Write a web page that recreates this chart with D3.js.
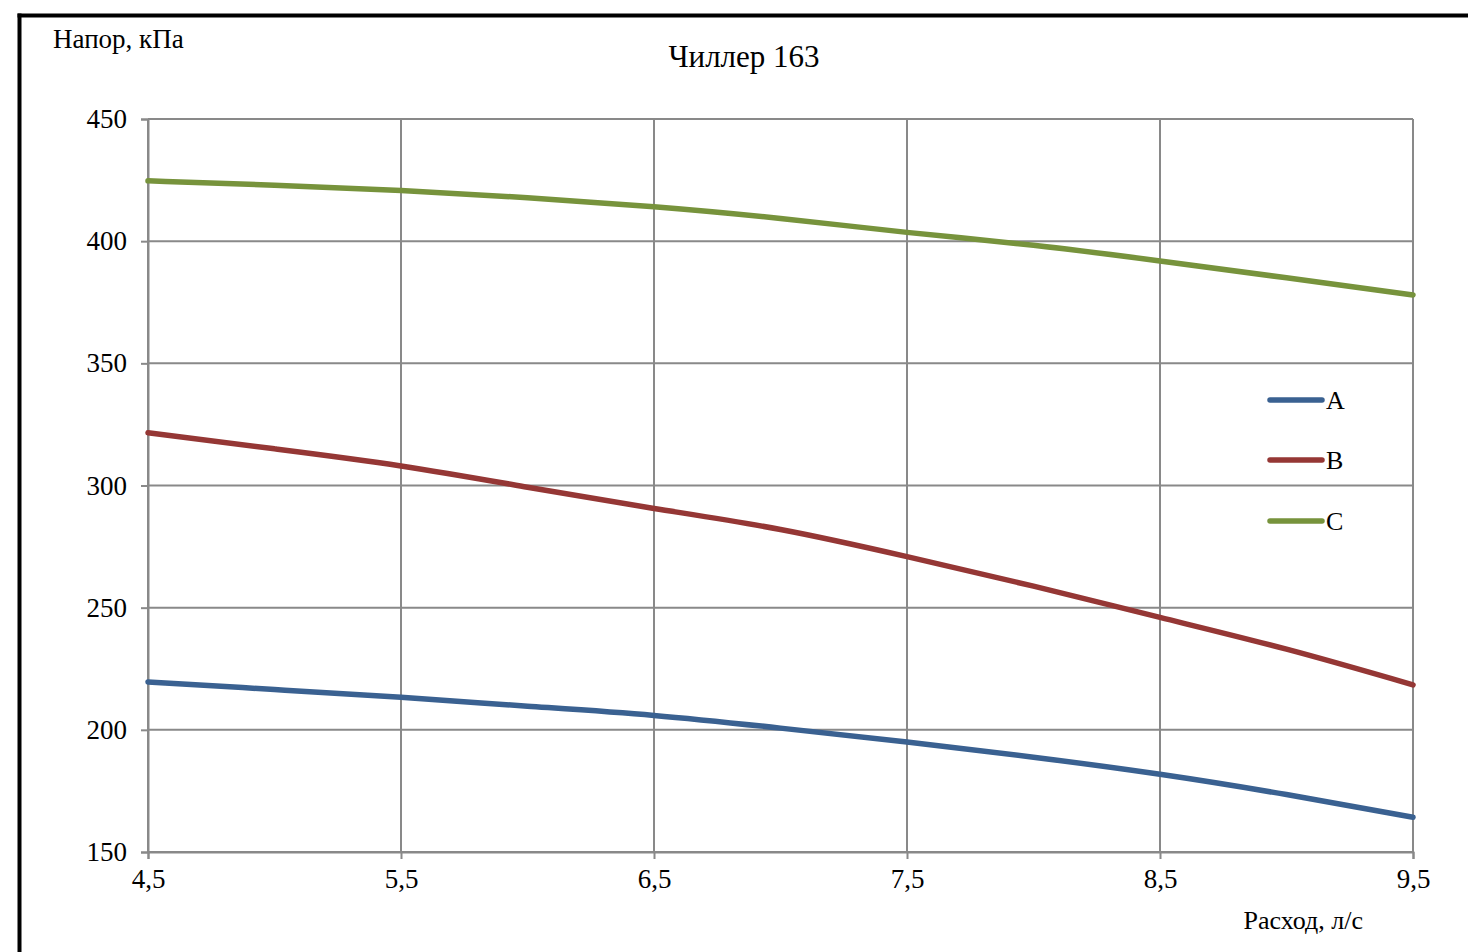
<!DOCTYPE html>
<html>
<head>
<meta charset="utf-8">
<script src="https://cdn.jsdelivr.net/npm/d3@7"></script>
<style>
  html, body { margin: 0; padding: 0; background: #fff; }
  svg { display: block; }
  text { font-family: "Liberation Serif", "Times New Roman", serif; fill: #000; }
</style>
</head>
<body>
<svg id="chart" width="1468" height="952"></svg>
<script>
// ---- data ----
const flow = [4.5, 5.0, 5.5, 6.0, 6.5, 7.0, 7.5, 8.0, 8.5, 9.0, 9.5];
const seriesA = [219.6, 216.5, 213.3, 209.7, 205.9, 200.7, 195.0, 188.8, 181.8, 173.5, 164.2];
const seriesB = [321.6, 315.0, 308.0, 299.3, 290.6, 282.0, 270.9, 258.8, 246.0, 233.0, 218.4];
const seriesC = [424.7, 422.9, 420.7, 417.8, 414.1, 409.3, 403.6, 398.3, 391.9, 385.0, 378.0];
const seriesNames = ["A", "B", "C"];
const seriesColors = ["#3A6191", "#953735", "#77933C"];
const xTicks = [4.5, 5.5, 6.5, 7.5, 8.5, 9.5];
const yTicks = [150, 200, 250, 300, 350, 400, 450];
const chartTitle = "Чиллер 163";
const yTitle = "Напор, кПа";
const xTitle = "Расход, л/с";

const svg = d3.select("#chart");

// frame lines
svg.append("line").attr("x1", 17.5).attr("x2", 1468).attr("y1", 15.5).attr("y2", 15.5)
  .attr("stroke", "#000").attr("stroke-width", 4);
svg.append("line").attr("x1", 19.5).attr("x2", 19.5).attr("y1", 13.5).attr("y2", 952)
  .attr("stroke", "#000").attr("stroke-width", 4);

const x = d3.scaleLinear().domain([4.5, 9.5]).range([148, 1413]);
const y = d3.scaleLinear().domain([150, 450]).range([852, 119]);

const grid = "#898989";

// horizontal gridlines
svg.append("g").selectAll("line").data(yTicks).join("line")
  .attr("x1", x(4.5)).attr("x2", x(9.5))
  .attr("y1", d => y(d)).attr("y2", d => y(d))
  .attr("stroke", grid).attr("stroke-width", 2);
// vertical gridlines
svg.append("g").selectAll("line").data(xTicks).join("line")
  .attr("x1", d => x(d)).attr("x2", d => x(d))
  .attr("y1", y(450)).attr("y2", y(150))
  .attr("stroke", grid).attr("stroke-width", 2);

// axes
const yAxis = d3.axisLeft(y).tickValues(yTicks).tickSize(7).tickPadding(14)
  .tickFormat(d => d);
const gy = svg.append("g").attr("transform", `translate(${x(4.5)},0)`).call(yAxis);
gy.attr("font-family", null);
gy.select(".domain").attr("stroke", grid).attr("stroke-width", 2);
gy.selectAll(".tick line").attr("stroke", grid).attr("stroke-width", 2);
gy.selectAll(".tick text").attr("font-size", 27).attr("fill", "#000");

const xAxis = d3.axisBottom(x).tickValues(xTicks).tickSize(7).tickPadding(10)
  .tickFormat(d => String(d).replace(".", ","));
const gx = svg.append("g").attr("transform", `translate(0,${y(150)})`).call(xAxis);
gx.attr("font-family", null);
gx.select(".domain").attr("stroke", grid).attr("stroke-width", 2);
gx.selectAll(".tick line").attr("stroke", grid).attr("stroke-width", 2);
gx.selectAll(".tick text").attr("font-size", 27).attr("fill", "#000");

// series
const allSeries = [seriesA, seriesB, seriesC];
const line = d3.line().x((d, i) => x(flow[i])).y(d => y(d)).curve(d3.curveNatural);
svg.append("g").selectAll("path").data(allSeries).join("path")
  .attr("d", d => line(d))
  .attr("fill", "none")
  .attr("stroke", (d, i) => seriesColors[i])
  .attr("stroke-width", 5.5)
  .attr("stroke-linecap", "round")
  .attr("stroke-linejoin", "round");

// legend
const legendY = [400, 460, 521];
const lg = svg.append("g").selectAll("g").data(seriesNames).join("g")
  .attr("transform", (d, i) => `translate(0,${legendY[i]})`);
lg.append("line").attr("x1", 1270).attr("x2", 1322).attr("y1", 0).attr("y2", 0)
  .attr("stroke", (d, i) => seriesColors[i]).attr("stroke-width", 5.5).attr("stroke-linecap", "round");
lg.append("text").attr("x", 1326).attr("y", 9).attr("font-size", 26).text(d => d);

// titles
svg.append("text").attr("x", 744).attr("y", 67).attr("text-anchor", "middle")
  .attr("font-size", 31).text(chartTitle);
svg.append("text").attr("x", 53).attr("y", 48).attr("font-size", 27).text(yTitle);
svg.append("text").attr("x", 1363).attr("y", 929).attr("text-anchor", "end")
  .attr("font-size", 26).text(xTitle);
</script>
</body>
</html>
